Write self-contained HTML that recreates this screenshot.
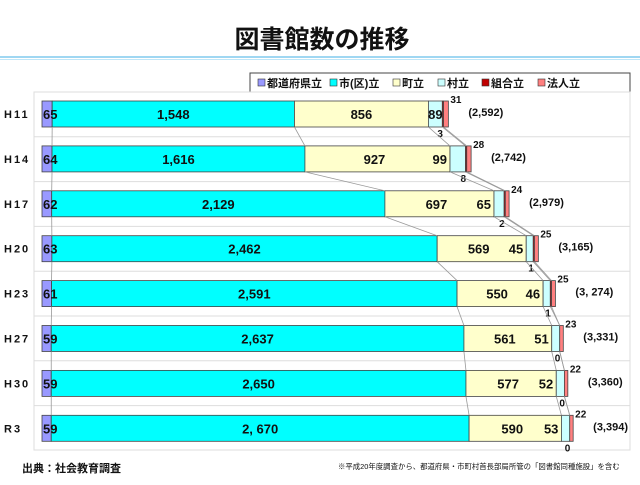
<!DOCTYPE html>
<html><head><meta charset="utf-8"><style>
body{margin:0;width:640px;height:480px;background:#fff;overflow:hidden;font-family:"Liberation Sans","Noto Sans CJK JP",sans-serif}
</style></head><body>
<svg id="s" width="640" height="480" xmlns="http://www.w3.org/2000/svg" font-family="Liberation Sans, Noto Sans CJK JP, sans-serif">
<text x="322" y="48" text-anchor="middle" font-size="25" font-weight="bold" fill="#111">図書館数の推移</text>
<rect x="0" y="56" width="640" height="2" fill="#9fd7f2"/>
<rect x="0" y="59" width="640" height="1" fill="#bfe6f8"/>
<rect x="250" y="73" width="380" height="20" fill="#fff" stroke="#444" stroke-width="1"/>
<g font-size="11" font-weight="bold" fill="#111">
<rect x="258" y="79" width="7" height="7" fill="#9999ff" stroke="#333" stroke-width=".6"/><text x="267" y="87">都道府県立</text>
<rect x="330" y="79" width="7" height="7" fill="#00ffff" stroke="#333" stroke-width=".6"/><text x="339" y="87">市(区)立</text>
<rect x="393" y="79" width="7" height="7" fill="#ffffcc" stroke="#333" stroke-width=".6"/><text x="402" y="87">町立</text>
<rect x="438" y="79" width="7" height="7" fill="#ccffff" stroke="#333" stroke-width=".6"/><text x="447" y="87">村立</text>
<rect x="482" y="79" width="7" height="7" fill="#c00000" stroke="#333" stroke-width=".6"/><text x="491" y="87">組合立</text>
<rect x="538" y="79" width="7" height="7" fill="#ff8080" stroke="#333" stroke-width=".6"/><text x="547" y="87">法人立</text>
</g>
<g id="g"></g>
<text x="22" y="472" font-size="11" font-weight="bold" fill="#111">出典：社会教育調査</text>
<text x="338" y="469" font-size="7.4" fill="#111">※平成20年度調査から、都道府県・市町村首長部局所管の「図書館同種施設」を含む</text>
</svg>
<script>
var D=[["H11",65,1548,856,89,3,31,"(2,592)","1,548"],["H14",64,1616,927,99,8,28,"(2,742)","1,616"],["H17",62,2129,697,65,2,24,"(2,979)","2,129"],["H20",63,2462,569,45,1,25,"(3,165)","2,462"],["H23",61,2591,550,46,1,25,"(3, 274)","2,591"],["H27",59,2637,561,51,0,23,"(3,331)","2,637"],["H30",59,2650,577,52,0,22,"(3,360)","2,650"],["R3",59,2670,590,53,0,22,"(3,394)","2, 670"]];
var C=["#9999ff","#00ffff","#ffffcc","#ccffff","#c00000","#ff8080"];
var x0=42,s=0.1565,h=26,o='';
o+='<rect x="34" y="92" width="596" height="358" fill="#fff" stroke="#ddd"/>';
for(var i=1;i<8;i++){var yy=92+i*44.8;o+='<line x1="34" x2="630" y1="'+yy+'" y2="'+yy+'" stroke="#ddd"/>';}
var prev=null;
D.forEach(function(r,i){var cy=114+i*44.9,y=cy-h/2,x=x0,ed=[];
 for(var k=1;k<=6;k++){var w=r[k]*s;if(k==5&&r[k]>0)w=Math.max(w,1.2);o+='<rect x="'+x+'" y="'+y+'" width="'+w+'" height="'+h+'" fill="'+C[k-1]+'" stroke="#444" stroke-width=".8"/>';x+=w;ed.push(x);}
 if(prev){[1,2,3,4,5].forEach(function(k){o+='<line x1="'+prev[k-1]+'" y1="'+(prev.y+h)+'" x2="'+ed[k-1]+'" y2="'+y+'" stroke="#999" stroke-width=".8"/>';});}
 prev=ed;prev.y=y;
 o+='<text x="4" y="'+(cy+4)+'" font-size="11" font-weight="bold" letter-spacing="2" fill="#111">'+r[0]+'</text>';
 var ts='font-size="13" font-weight="bold" fill="#111"';
 o+='<text x="'+(x0+1)+'" y="'+(cy+5)+'" '+ts+'>'+r[1]+'</text>';
 var a=ed[0],b=ed[1],c=ed[2],d=ed[3];
 o+='<text x="'+((a+b)/2)+'" y="'+(cy+5)+'" text-anchor="middle" '+ts+'>'+r[8]+'</text>';
 o+='<text x="'+((b+c)/2-(i==0?0:3))+'" y="'+(cy+5)+'" text-anchor="middle" '+ts+'>'+r[3]+'</text>';
 if(i==0)o+='<text x="'+((c+d)/2)+'" y="'+(cy+5)+'" text-anchor="middle" '+ts+'>'+r[4]+'</text>';
 else o+='<text x="'+(c-3)+'" y="'+(cy+5)+'" text-anchor="end" '+ts+'>'+r[4]+'</text>';
 o+='<text x="'+(x+2)+'" y="'+(y+2)+'" font-size="10" font-weight="bold" fill="#111">'+r[6]+'</text>';
 o+='<text x="'+(ed[3]-5)+'" y="'+(y+h+10)+'" font-size="10" font-weight="bold" fill="#111">'+r[5]+'</text>';
 o+='<text x="'+(x+20)+'" y="'+(cy+2)+'" font-size="11" font-weight="bold" fill="#111">'+r[7]+'</text>';
});
document.getElementById('g').innerHTML=o;
</script>
</body></html>
